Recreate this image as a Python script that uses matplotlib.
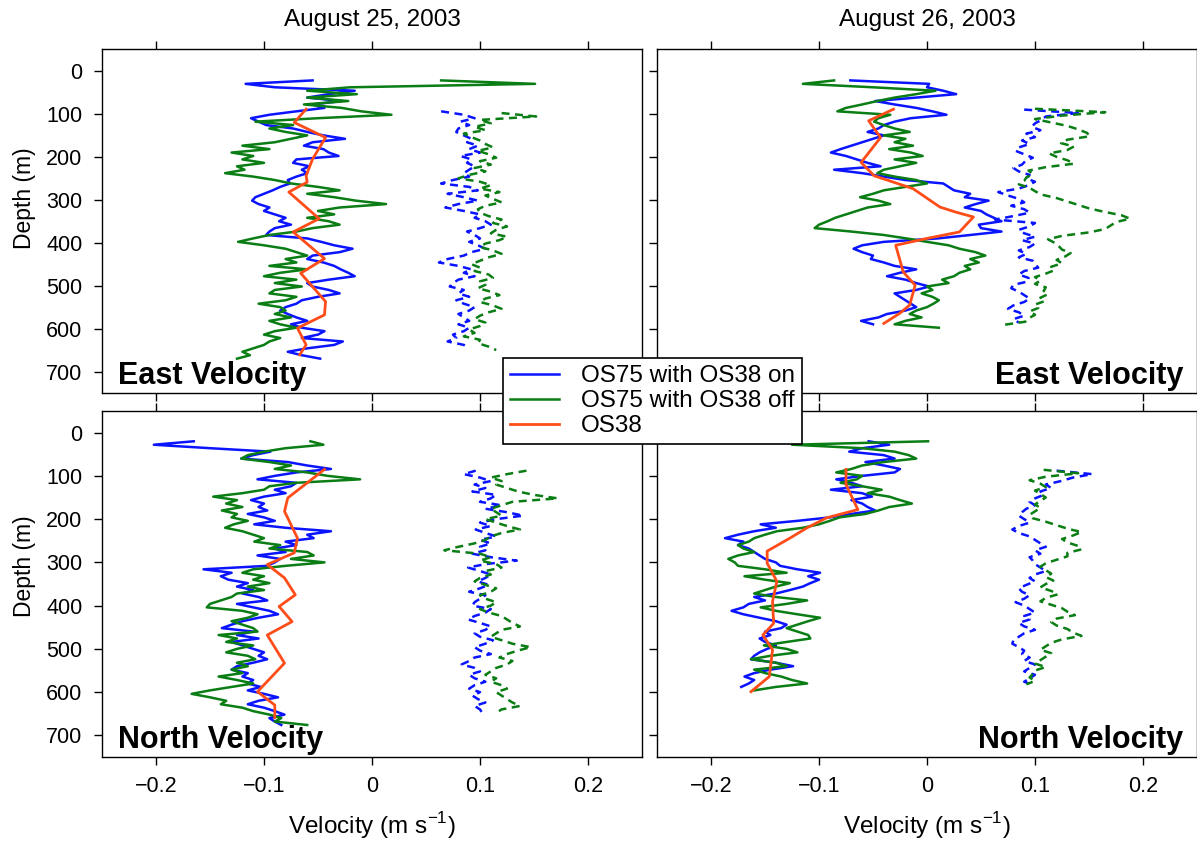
import numpy as np
import matplotlib.pyplot as plt

plt.rcParams['font.family'] = ['Liberation Sans', 'DejaVu Sans']
plt.rcParams['mathtext.fontset'] = 'custom'
plt.rcParams['mathtext.rm'] = 'Liberation Sans'

BIN = 8  # OS75 bin size (m)

# ---------------- East velocity, Aug 25 ----------------
e25_top = 22
e25_on = [-0.055, -0.117, -0.090, -0.016, -0.040, -0.060, -0.028, -0.055, -0.044, -0.070,
          -0.095, -0.112, -0.105, -0.098, -0.073, -0.060, -0.045, -0.025, -0.055, -0.063,
          -0.045, -0.040, -0.031, -0.070, -0.073, -0.058, -0.065, -0.060, -0.070, -0.078,
          -0.076, -0.085, -0.092, -0.100, -0.108, -0.111, -0.105, -0.095, -0.100, -0.090,
          -0.080, -0.086, -0.075, -0.090, -0.095, -0.098, -0.060, -0.047, -0.035, -0.018,
          -0.030, -0.055, -0.060, -0.045, -0.035, -0.029, -0.022, -0.016, -0.040, -0.060,
          -0.055, -0.040, -0.030, -0.050, -0.065, -0.070, -0.080, -0.085, -0.078, -0.070,
          -0.060, -0.075, -0.065, -0.044, -0.050, -0.065, -0.027, -0.035, -0.060, -0.078,
          -0.065, -0.048]
e25_off = [0.064, 0.151, -0.020, -0.060, -0.014, -0.060, -0.022, -0.063, -0.028, -0.010,
           0.018, -0.050, -0.108, -0.073, -0.095, -0.080, -0.060, -0.075, -0.090, -0.120,
           -0.095, -0.130, -0.110, -0.120, -0.100, -0.125, -0.118, -0.136, -0.110, -0.090,
           -0.075, -0.050, -0.030, -0.060, -0.035, -0.015, 0.013, -0.030, -0.050, -0.035,
           -0.060, -0.040, -0.030, -0.055, -0.070, -0.095, -0.110, -0.124, -0.100, -0.080,
           -0.070, -0.060, -0.080, -0.070, -0.095, -0.060, -0.085, -0.100, -0.070, -0.090,
           -0.065, -0.090, -0.095, -0.070, -0.080, -0.105, -0.085, -0.080, -0.090, -0.075,
           -0.095, -0.085, -0.070, -0.090, -0.100, -0.085, -0.095, -0.100, -0.110, -0.120,
           -0.113, -0.125]
e25_os38_z = [89, 120, 155, 205, 244, 259, 282, 344, 375, 437, 471, 537, 568, 599, 638, 661]
e25_os38 = [-0.061, -0.072, -0.043, -0.055, -0.061, -0.060, -0.077, -0.049, -0.073, -0.044,
            -0.066, -0.043, -0.044, -0.069, -0.061, -0.067]
e25_d_top = 94
e25_on_d = [0.064, 0.085, 0.095, 0.082, 0.090, 0.080, 0.078, 0.085, 0.092, 0.088,
            0.098, 0.090, 0.100, 0.082, 0.092, 0.088, 0.095, 0.090, 0.085, 0.090,
            0.075, 0.064, 0.090, 0.098, 0.070, 0.085, 0.098, 0.080, 0.068, 0.085,
            0.100, 0.095, 0.105, 0.110, 0.100, 0.088, 0.095, 0.100, 0.090, 0.098,
            0.105, 0.092, 0.085, 0.070, 0.062, 0.080, 0.092, 0.085, 0.095, 0.080,
            0.075, 0.072, 0.085, 0.080, 0.090, 0.078, 0.085, 0.095, 0.090, 0.080,
            0.085, 0.090, 0.080, 0.090, 0.085, 0.075, 0.078, 0.070, 0.085, 0.090]
e25_off_d = [0.120, 0.152, 0.100, 0.110, 0.095, 0.105, 0.085, 0.092, 0.100, 0.105,
             0.112, 0.098, 0.108, 0.115, 0.100, 0.110, 0.095, 0.105, 0.090, 0.080,
             0.100, 0.110, 0.100, 0.118, 0.105, 0.112, 0.120, 0.105, 0.098, 0.100,
             0.108, 0.120, 0.112, 0.125, 0.115, 0.110, 0.125, 0.118, 0.105, 0.100,
             0.112, 0.120, 0.108, 0.100, 0.092, 0.100, 0.095, 0.108, 0.112, 0.100,
             0.105, 0.098, 0.110, 0.118, 0.105, 0.100, 0.112, 0.120, 0.108, 0.100,
             0.095, 0.105, 0.100, 0.090, 0.095, 0.085, 0.100, 0.098, 0.108, 0.115]

# ---------------- East velocity, Aug 26 ----------------
e26_top = 22
e26_on = [-0.071, 0.002, 0.000, 0.015, 0.027, -0.010, -0.048, -0.030, -0.010, 0.005,
          0.018, -0.015, -0.030, -0.040, -0.045, -0.055, -0.040, -0.050, -0.060, -0.070,
          -0.080, -0.089, -0.075, -0.065, -0.055, -0.043, -0.086, -0.060, -0.040, -0.020,
          0.015, 0.020, 0.025, 0.040, 0.035, 0.057, 0.045, 0.035, 0.050, 0.055,
          0.062, 0.069, 0.048, 0.050, 0.069, 0.040, 0.010, -0.040, -0.060, -0.068,
          -0.060, -0.050, -0.052, -0.040, -0.030, -0.010, -0.025, -0.037, -0.020, -0.010,
          0.002, -0.010, -0.030, -0.025, -0.020, -0.015, -0.010, -0.020, -0.037, -0.045,
          -0.061, -0.050]
e26_off = [-0.086, -0.115, -0.050, 0.008, -0.010, -0.030, -0.046, -0.060, -0.075, -0.083,
           -0.034, -0.045, -0.049, -0.040, -0.030, -0.016, -0.040, -0.020, -0.030, -0.013,
           -0.035, -0.015, -0.004, -0.030, -0.010, -0.025, -0.040, -0.046, -0.030, -0.010,
           0.000, -0.020, -0.040, -0.050, -0.062, -0.045, -0.034, -0.055, -0.065, -0.075,
           -0.085, -0.092, -0.100, -0.104, -0.070, -0.040, -0.019, 0.000, 0.020, 0.030,
           0.045, 0.054, 0.040, 0.048, 0.035, 0.040, 0.030, 0.025, 0.014, 0.020,
           0.000, 0.005, -0.005, 0.005, 0.011, 0.006, 0.000, -0.010, -0.016, -0.005,
           -0.020, -0.030, 0.011]
e26_os38_z = [89, 116, 155, 213, 244, 274, 317, 329, 340, 375, 390, 406, 468, 499, 545, 564, 588]
e26_os38 = [-0.031, -0.054, -0.043, -0.061, -0.049, -0.013, 0.012, 0.027, 0.043, 0.030,
            0.000, -0.029, -0.022, -0.011, -0.016, -0.025, -0.040]
e26_d_top = 90
e26_on_d = [0.090, 0.140, 0.110, 0.106, 0.100, 0.097, 0.105, 0.092, 0.100, 0.088,
            0.095, 0.085, 0.082, 0.090, 0.098, 0.091, 0.088, 0.080, 0.085, 0.095,
            0.092, 0.100, 0.094, 0.085, 0.066, 0.075, 0.085, 0.090, 0.078, 0.090,
            0.095, 0.080, 0.063, 0.100, 0.095, 0.085, 0.090, 0.100, 0.088, 0.100,
            0.095, 0.085, 0.092, 0.085, 0.098, 0.100, 0.103, 0.090, 0.085, 0.094,
            0.094, 0.080, 0.078, 0.085, 0.090, 0.095, 0.090, 0.080, 0.075, 0.085,
            0.090, 0.080, 0.085]
e26_off_d = [0.100, 0.165, 0.125, 0.100, 0.115, 0.130, 0.140, 0.148, 0.151, 0.130,
             0.124, 0.136, 0.130, 0.113, 0.120, 0.130, 0.136, 0.110, 0.094, 0.098,
             0.092, 0.090, 0.085, 0.095, 0.100, 0.106, 0.120, 0.130, 0.140, 0.150,
             0.164, 0.180, 0.188, 0.175, 0.170, 0.165, 0.150, 0.125, 0.112, 0.118,
             0.122, 0.125, 0.133, 0.128, 0.120, 0.125, 0.115, 0.118, 0.110, 0.100,
             0.105, 0.100, 0.110, 0.108, 0.112, 0.105, 0.109, 0.100, 0.103, 0.095,
             0.100, 0.094, 0.091, 0.069]

# ---------------- North velocity, Aug 25 ----------------
n25_top = 20
n25_on = [-0.165, -0.202, -0.150, -0.094, -0.110, -0.121, -0.078, -0.060, -0.038, -0.070,
          -0.090, -0.106, -0.070, -0.075, -0.090, -0.080, -0.100, -0.112, -0.100, -0.105,
          -0.097, -0.115, -0.100, -0.090, -0.109, -0.080, -0.038, -0.060, -0.054, -0.080,
          -0.070, -0.090, -0.080, -0.106, -0.085, -0.090, -0.097, -0.156, -0.130, -0.140,
          -0.133, -0.115, -0.125, -0.110, -0.120, -0.105, -0.097, -0.125, -0.110, -0.095,
          -0.087, -0.105, -0.120, -0.130, -0.139, -0.110, -0.125, -0.105, -0.130, -0.120,
          -0.110, -0.100, -0.105, -0.097, -0.110, -0.125, -0.130, -0.115, -0.120, -0.110,
          -0.115, -0.103, -0.115, -0.100, -0.087, -0.105, -0.115, -0.100, -0.090, -0.081,
          -0.095, -0.090, -0.084]
n25_off = [-0.057, -0.045, -0.080, -0.100, -0.115, -0.121, -0.095, -0.075, -0.090, -0.060,
           -0.041, -0.011, -0.070, -0.095, -0.100, -0.120, -0.147, -0.125, -0.135, -0.120,
           -0.139, -0.125, -0.130, -0.115, -0.128, -0.136, -0.120, -0.110, -0.100, -0.109,
           -0.085, -0.095, -0.060, -0.054, -0.075, -0.044, -0.080, -0.110, -0.120, -0.100,
           -0.110, -0.095, -0.115, -0.100, -0.125, -0.130, -0.140, -0.150, -0.153, -0.120,
           -0.106, -0.115, -0.130, -0.120, -0.110, -0.106, -0.142, -0.125, -0.135, -0.110,
           -0.125, -0.135, -0.115, -0.108, -0.125, -0.115, -0.130, -0.120, -0.142, -0.125,
           -0.110, -0.130, -0.150, -0.167, -0.150, -0.135, -0.140, -0.120, -0.110, -0.095,
           -0.084, -0.090, -0.060]
n25_os38_z = [85, 151, 182, 244, 278, 305, 336, 375, 402, 437, 468, 533, 599, 630, 659]
n25_os38 = [-0.044, -0.078, -0.081, -0.069, -0.072, -0.097, -0.081, -0.071, -0.086, -0.074,
            -0.097, -0.081, -0.106, -0.090, -0.090]
n25_d_top = 88
n25_on_d = [0.096, 0.085, 0.100, 0.110, 0.095, 0.105, 0.093, 0.115, 0.110, 0.100,
            0.120, 0.105, 0.125, 0.140, 0.115, 0.100, 0.110, 0.096, 0.105, 0.115,
            0.100, 0.110, 0.100, 0.105, 0.093, 0.110, 0.134, 0.105, 0.089, 0.100,
            0.110, 0.105, 0.098, 0.108, 0.100, 0.090, 0.105, 0.100, 0.095, 0.093,
            0.110, 0.105, 0.095, 0.089, 0.100, 0.110, 0.105, 0.095, 0.100, 0.112,
            0.105, 0.095, 0.100, 0.110, 0.095, 0.090, 0.083, 0.095, 0.100, 0.090,
            0.095, 0.105, 0.095, 0.090, 0.100, 0.093, 0.098, 0.105, 0.095, 0.100,
            0.102]
n25_off_d = [0.143, 0.125, 0.110, 0.120, 0.115, 0.125, 0.135, 0.150, 0.172, 0.130,
             0.120, 0.110, 0.115, 0.120, 0.105, 0.115, 0.125, 0.137, 0.120, 0.110,
             0.105, 0.095, 0.080, 0.067, 0.100, 0.110, 0.100, 0.115, 0.120, 0.105,
             0.110, 0.100, 0.095, 0.105, 0.115, 0.110, 0.100, 0.105, 0.115, 0.110,
             0.100, 0.108, 0.120, 0.125, 0.130, 0.137, 0.120, 0.115, 0.110, 0.120,
             0.130, 0.147, 0.135, 0.125, 0.118, 0.130, 0.125, 0.115, 0.110, 0.105,
             0.115, 0.110, 0.120, 0.125, 0.115, 0.120, 0.125, 0.130, 0.137, 0.120,
             0.115]

# ---------------- North velocity, Aug 26 ----------------
n26_top = 20
n26_on = [-0.054, -0.035, -0.060, -0.072, -0.040, -0.030, -0.057, -0.040, -0.025, -0.030,
          -0.060, -0.084, -0.070, -0.060, -0.089, -0.060, -0.051, -0.070, -0.060, -0.055,
          -0.048, -0.070, -0.090, -0.120, -0.154, -0.140, -0.160, -0.175, -0.187, -0.170,
          -0.175, -0.165, -0.160, -0.155, -0.150, -0.140, -0.136, -0.120, -0.099, -0.110,
          -0.100, -0.108, -0.115, -0.127, -0.140, -0.160, -0.150, -0.165, -0.170, -0.181,
          -0.170, -0.155, -0.140, -0.130, -0.135, -0.150, -0.145, -0.155, -0.150, -0.140,
          -0.148, -0.155, -0.160, -0.163, -0.140, -0.124, -0.145, -0.160, -0.169, -0.160,
          -0.165, -0.172]
n26_off = [0.001, -0.125, -0.060, -0.030, -0.017, -0.010, -0.040, -0.060, -0.070, -0.084,
           -0.060, -0.065, -0.080, -0.060, -0.042, -0.055, -0.035, -0.025, -0.014, -0.035,
           -0.045, -0.057, -0.081, -0.090, -0.100, -0.115, -0.139, -0.150, -0.160, -0.165,
           -0.175, -0.170, -0.160, -0.175, -0.184, -0.178, -0.175, -0.150, -0.130, -0.169,
           -0.150, -0.127, -0.140, -0.150, -0.160, -0.140, -0.111, -0.130, -0.154, -0.140,
           -0.120, -0.099, -0.110, -0.120, -0.130, -0.120, -0.110, -0.108, -0.130, -0.151,
           -0.130, -0.120, -0.145, -0.163, -0.140, -0.130, -0.160, -0.150, -0.135, -0.125,
           -0.111, -0.140, -0.160]
n26_os38_z = [85, 120, 178, 197, 220, 244, 274, 302, 344, 390, 441, 468, 502, 564, 599]
n26_os38 = [-0.075, -0.075, -0.064, -0.093, -0.111, -0.127, -0.148, -0.148, -0.139, -0.143,
            -0.142, -0.152, -0.143, -0.146, -0.163]
n26_on_d_top = 88
n26_on_d = [0.120, 0.153, 0.135, 0.124, 0.110, 0.115, 0.105, 0.108, 0.100, 0.095,
            0.100, 0.092, 0.088, 0.085, 0.090, 0.095, 0.085, 0.079, 0.085, 0.095,
            0.100, 0.105, 0.110, 0.100, 0.105, 0.095, 0.098, 0.100, 0.105, 0.110,
            0.100, 0.095, 0.100, 0.092, 0.085, 0.088, 0.095, 0.090, 0.082, 0.090,
            0.095, 0.100, 0.090, 0.095, 0.085, 0.090, 0.100, 0.090, 0.085, 0.080,
            0.079, 0.085, 0.090, 0.088, 0.095, 0.090, 0.100, 0.095, 0.090, 0.100,
            0.095, 0.090, 0.098]
n26_off_d_top = 86
n26_off_d = [0.108, 0.140, 0.110, 0.095, 0.105, 0.110, 0.100, 0.105, 0.110, 0.105,
             0.100, 0.105, 0.100, 0.095, 0.098, 0.110, 0.120, 0.130, 0.143, 0.135,
             0.125, 0.130, 0.140, 0.143, 0.130, 0.130, 0.120, 0.110, 0.105, 0.110,
             0.115, 0.110, 0.117, 0.110, 0.105, 0.115, 0.121, 0.110, 0.105, 0.115,
             0.125, 0.130, 0.137, 0.120, 0.115, 0.120, 0.130, 0.135, 0.143, 0.125,
             0.115, 0.110, 0.105, 0.115, 0.110, 0.105, 0.100, 0.110, 0.100, 0.098,
             0.095, 0.100, 0.092]

titles = ['August 25, 2003', 'August 26, 2003']
xticks = [-0.2, -0.1, 0, 0.1, 0.2]
xticklabels = ['\u22120.2', '\u22120.1', '0', '0.1', '0.2']
yticks = [0, 100, 200, 300, 400, 500, 600, 700]
legend_labels = ['OS75 with OS38 on', 'OS75 with OS38 off', 'OS38']

C_ON = '#0a14ff'
C_OFF = '#0a7d14'
C_38 = '#ff4d1a'


def bins(top, vals):
    return top + BIN * np.arange(len(vals))


panels = [
    # (row, col, label, on, off, os38 z, os38, dashed on, dashed off)
    (0, 0, 'East Velocity', (e25_top, e25_on), (e25_top, e25_off), e25_os38_z, e25_os38,
     (e25_d_top, e25_on_d), (e25_d_top + 4, e25_off_d)),
    (0, 1, 'East Velocity', (e26_top, e26_on), (e26_top, e26_off), e26_os38_z, e26_os38,
     (e26_d_top, e26_on_d), (e26_d_top - 2, e26_off_d)),
    (1, 0, 'North Velocity', (n25_top, n25_on), (n25_top, n25_off), n25_os38_z, n25_os38,
     (n25_d_top, n25_on_d), (n25_d_top, n25_off_d)),
    (1, 1, 'North Velocity', (n26_top, n26_on), (n26_top, n26_off), n26_os38_z, n26_os38,
     (n26_on_d_top, n26_on_d), (n26_off_d_top, n26_off_d)),
]

fig = plt.figure(figsize=(11.97, 8.43), dpi=100)
W = 540 / 1197
lefts = [102 / 1197, 657 / 1197]
bottoms = [1 - 393 / 843, 1 - 757 / 843]
heights = [343.5 / 843, 346 / 843]
ylabel_y = [1 - 198 / 843, 1 - 566 / 843]

handles = None
for row, col, name, on, off, z38, v38, don, doff in panels:
    ax = fig.add_axes([lefts[col], bottoms[row], W, heights[row]])
    h1, = ax.plot(on[1], bins(*on), color=C_ON, lw=1.8)
    h2, = ax.plot(off[1], bins(*off), color=C_OFF, lw=1.8)
    ax.plot(don[1], bins(*don), color=C_ON, lw=1.8, ls=(0, (3.2, 2.2)))
    ax.plot(doff[1], bins(*doff), color=C_OFF, lw=1.8, ls=(0, (3.2, 2.2)))
    h3, = ax.plot(v38, z38, color=C_38, lw=2.0)
    handles = [h1, h2, h3]

    ax.set_xlim(-0.25, 0.25)
    ax.set_ylim(750, -50)
    ax.set_xticks(xticks)
    ax.set_yticks(yticks)
    ax.tick_params(direction='out', length=6, width=1, top=True, bottom=True,
                   left=True, right=False, labelsize=15.5, pad=8)
    for s in ax.spines.values():
        s.set_linewidth(1.0)
    if row == 1:
        ax.set_xticklabels(xticklabels)
    else:
        ax.set_xticklabels([])
    if col == 1:
        ax.set_yticklabels([])
    if col == 0:
        ax.text(0.03, 0.025, name, transform=ax.transAxes, ha='left', va='baseline',
                fontsize=22, fontweight='bold')
    else:
        ax.text(0.975, 0.025, name, transform=ax.transAxes, ha='right', va='baseline',
                fontsize=22, fontweight='bold')
    if row == 0:
        fig.text(lefts[col] + W / 2, 1 - 20 / 843, titles[col], ha='center', va='center',
                 fontsize=17.5)
    else:
        fig.text(lefts[col] + W / 2, 1 - 826 / 843, 'Velocity (m s$^{\\mathrm{-1}}$)',
                 ha='center', va='center', fontsize=17.5)
    if col == 0:
        fig.text(25 / 1197, ylabel_y[row], 'Depth (m)', rotation=90, ha='center',
                 va='center', fontsize=16.5)

leg = fig.legend(handles, legend_labels, loc='upper left',
                 bbox_to_anchor=(503 / 1197, 1 - 358 / 843), fontsize=17.5,
                 frameon=True, fancybox=False, edgecolor='black', framealpha=1,
                 borderaxespad=0, handlelength=2.0, borderpad=0.3, labelspacing=0.12,
                 handletextpad=0.9)
leg.get_frame().set_linewidth(1.2)

fig.savefig('out.png', dpi=100)
